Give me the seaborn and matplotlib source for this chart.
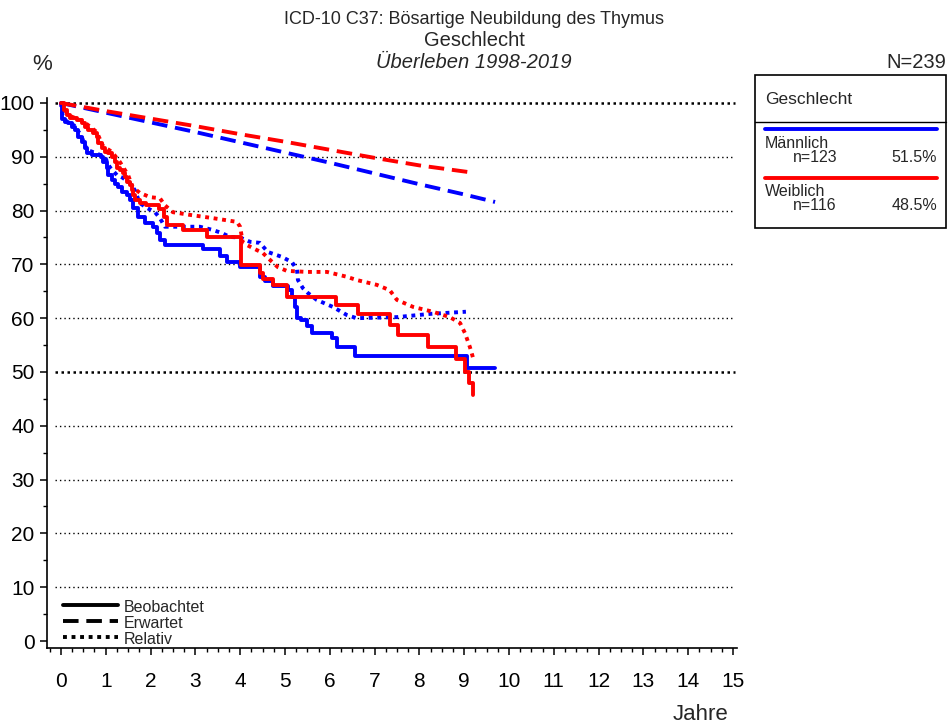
import numpy as np
import pandas as pd
import matplotlib
matplotlib.use("Agg")
import matplotlib.pyplot as plt
import seaborn as sns
from matplotlib.lines import Line2D
from matplotlib.patches import Rectangle
from matplotlib.ticker import MultipleLocator

sns.set_theme(style="white")
plt.rcParams["font.family"] = ["Liberation Sans", "DejaVu Sans"]

# ---------------- data ----------------
groups = ["Männlich", "Weiblich"]
group_n = ["n=123", "n=116"]
group_pct = ["51.5%", "48.5%"]
group_colors = ["#0000ff", "#ff0000"]

# observed (Beobachtet), step curves
m_obs_t = [0, 0.03, 0.10, 0.15, 0.25, 0.32, 0.38, 0.47, 0.53, 0.58, 0.70, 0.90, 0.95, 1.02, 1.05,
           1.13, 1.20, 1.27, 1.36, 1.47, 1.54, 1.60, 1.72, 1.87, 2.05, 2.14, 2.21, 2.32, 3.17,
           3.55, 3.70, 4.00, 4.44, 4.55, 4.73, 5.07, 5.15, 5.22, 5.27, 5.35, 5.49, 5.60, 6.05,
           6.16, 6.56, 9.06, 9.69]
m_obs_v = [100, 97.0, 96.5, 96.3, 95.5, 95.0, 93.7, 92.7, 91.6, 90.7, 90.3, 90.0, 89.0, 88.0, 86.6,
           85.7, 85.0, 84.4, 83.5, 82.9, 82.0, 80.5, 78.8, 77.7, 77.0, 75.8, 74.5, 73.6, 72.9,
           71.5, 70.4, 69.5, 67.7, 66.9, 66.0, 65.2, 64.0, 62.0, 60.0, 59.7, 58.5, 57.2, 56.3,
           54.7, 53.0, 50.7, 50.7]
w_obs_t = [0, 0.07, 0.13, 0.20, 0.36, 0.47, 0.53, 0.60, 0.71, 0.80, 0.83, 0.92, 0.98, 1.05, 1.14,
           1.20, 1.25, 1.32, 1.38, 1.43, 1.47, 1.54, 1.58, 1.61, 1.65, 1.76, 1.90, 2.20, 2.30,
           2.36, 2.72, 3.26, 4.02, 4.44, 4.50, 4.73, 5.04, 6.14, 6.63, 7.34, 7.52, 8.19, 8.82,
           9.02, 9.11, 9.20]
w_obs_v = [100, 98.7, 97.8, 97.2, 96.8, 96.3, 95.5, 95.0, 94.4, 93.7, 92.5, 91.6, 90.9, 90.7, 90.0,
           89.0, 88.0, 87.5, 87.0, 86.2, 85.3, 84.8, 83.8, 82.9, 82.0, 81.4, 81.0, 80.3, 78.8,
           77.3, 76.4, 75.1, 69.8, 68.4, 67.3, 66.2, 64.0, 62.5, 60.8, 58.7, 56.9, 54.7, 52.4,
           50.0, 48.0, 45.7]

# expected (Erwartet)
m_exp_t = [0, 1, 2, 3, 4, 5, 6, 7, 8, 9, 9.69]
m_exp_v = [100, 98.2, 96.4, 94.6, 92.7, 90.8, 88.9, 86.9, 84.9, 83.0, 81.6]
w_exp_t = [0, 1, 2, 3, 4, 5, 6, 7, 8, 9.15]
w_exp_v = [100, 98.5, 97.1, 95.7, 94.2, 92.8, 91.3, 89.8, 88.4, 87.1]

# relative (Relativ)
m_rel_t = [0, 0.05, 0.30, 0.45, 0.58, 0.71, 0.98, 1.09, 1.25, 1.38, 1.54, 1.65, 1.76, 1.92, 2.10,
           2.21, 2.32, 2.72, 3.10, 3.39, 3.60, 3.77, 4.00, 4.22, 4.44, 4.62, 4.93, 5.16, 5.27,
           5.29, 5.40, 5.51, 5.71, 6.07, 6.38, 6.60, 7.50, 8.24, 9.04]
m_rel_v = [100, 97.0, 95.8, 94.0, 91.3, 90.9, 90.0, 88.1, 86.6, 86.1, 85.1, 83.8, 81.4, 80.5, 79.7,
           78.6, 77.0, 77.0, 77.0, 76.4, 75.8, 75.1, 75.0, 74.2, 74.0, 72.3, 71.4, 70.4, 69.0,
           67.1, 65.6, 64.7, 63.4, 62.1, 60.6, 60.0, 60.2, 60.8, 61.2]
w_rel_t = [0, 0.07, 0.20, 0.50, 0.80, 0.94, 1.14, 1.32, 1.50, 1.60, 1.76, 1.99, 2.21, 2.32, 2.50,
           2.88, 3.39, 3.93, 4.00, 4.06, 4.29, 4.51, 4.62, 4.84, 5.04, 5.49, 5.94, 6.38, 6.60,
           7.05, 7.34, 7.50, 7.86, 8.30, 8.68, 8.91, 9.02, 9.13, 9.20]
w_rel_v = [100, 98.8, 97.6, 96.6, 94.6, 92.0, 90.9, 89.0, 86.6, 84.4, 83.3, 82.5, 82.3, 81.0, 79.7,
           79.2, 78.6, 77.9, 77.0, 74.0, 73.0, 72.1, 71.2, 69.5, 68.8, 68.6, 68.6, 67.7, 67.1,
           66.2, 65.2, 63.4, 62.1, 61.2, 60.2, 59.1, 57.2, 54.6, 52.6]

kinds = ["Beobachtet", "Erwartet", "Relativ"]
x_ticks = list(range(0, 16))
y_ticks = list(range(0, 101, 10))

# ---------------- build tables ----------------
def frame(t, v, g, k):
    return pd.DataFrame({"Jahre": t, "Prozent": v, "Gruppe": g, "Art": k})

obs = pd.concat([frame(m_obs_t, m_obs_v, groups[0], kinds[0]),
                 frame(w_obs_t, w_obs_v, groups[1], kinds[0])], ignore_index=True)
exp_ = pd.concat([frame(m_exp_t, m_exp_v, groups[0], kinds[1]),
                  frame(w_exp_t, w_exp_v, groups[1], kinds[1])], ignore_index=True)
rel = pd.concat([frame(m_rel_t, m_rel_v, groups[0], kinds[2]),
                 frame(w_rel_t, w_rel_v, groups[1], kinds[2])], ignore_index=True)
palette = dict(zip(groups, group_colors))

# ---------------- figure ----------------
W, H = 948, 728
fig = plt.figure(figsize=(W / 100, H / 100), dpi=100)
ax = fig.add_axes([47 / W, (H - 648) / H, (737 - 47) / W, (648 - 97.6) / H])
ax.set_xlim(-0.31, 15.09)
ax.set_ylim(-1.3, 101)

# grid lines (dotted)
for y in y_ticks[1:]:
    lw = 1.8 if y in (50, 100) else 1.0
    ax.hlines(y, -0.13, 15.05, colors="black", linewidth=lw,
              linestyles=(0, (1, 2.2) if lw < 1.5 else (1, 1.4)), zorder=1)

lw = 2.8
sns.lineplot(data=exp_, x="Jahre", y="Prozent", hue="Gruppe", palette=palette,
             estimator=None, sort=False, units="Gruppe", legend=False, ax=ax,
             linewidth=lw, dashes=False, zorder=3)
for l in ax.lines:
    l.set_dashes((4, 2))
    l.set_dash_capstyle("butt")
n0 = len(ax.lines)
sns.lineplot(data=rel, x="Jahre", y="Prozent", hue="Gruppe", palette=palette,
             estimator=None, sort=False, units="Gruppe", legend=False, ax=ax,
             linewidth=lw, zorder=3)
for l in ax.lines[n0:]:
    l.set_dashes((1, 1.2))
    l.set_dash_capstyle("butt")
sns.lineplot(data=obs, x="Jahre", y="Prozent", hue="Gruppe", palette=palette,
             estimator=None, sort=False, units="Gruppe", legend=False, ax=ax,
             linewidth=lw, drawstyle="steps-post", zorder=4)

# axes styling
for s in ["top", "right"]:
    ax.spines[s].set_visible(False)
for s in ["left", "bottom"]:
    ax.spines[s].set_color("black")
    ax.spines[s].set_linewidth(1.2)
ax.set_xticks(x_ticks)
ax.set_yticks(y_ticks)
ax.xaxis.set_minor_locator(MultipleLocator(0.25))
ax.yaxis.set_minor_locator(MultipleLocator(5))
ax.tick_params(axis="both", which="major", direction="out", length=5, width=1.1,
               color="black", labelsize=15, labelcolor="black", pad=4,
               bottom=True, left=True)
ax.tick_params(axis="both", which="minor", direction="out", length=3, width=1.0,
               color="black", bottom=True, left=True)
ax.tick_params(axis="x", which="major", pad=12)
ax.set_xlabel("")
ax.set_ylabel("")
ax.grid(False)

# line-style legend inside plot
for i, (k, ls) in enumerate(zip(kinds, ["-", (0, (4, 2)), (0, (1, 1.2))])):
    y = 605 + 16 * i
    fig.add_artist(Line2D([63 / W, 118 / W], [1 - y / H, 1 - y / H], color="black",
                          linewidth=2.8, linestyle=ls, dash_capstyle="butt"))
    fig.text(124 / W, 1 - (y + 2) / H, k, fontsize=11.5, ha="left", va="center")

# titles
fig.text(0.5, 1 - 19 / H, "ICD-10 C37: Bösartige Neubildung des Thymus", fontsize=13,
         ha="center", va="center")
fig.text(0.5, 1 - 41 / H, "Geschlecht", fontsize=14.5, ha="center", va="center")
fig.text(0.5, 1 - 62 / H, "Überleben 1998-2019", fontsize=14.5, ha="center", va="center",
         style="italic")
fig.text(42 / W, 1 - 64 / H, "%", fontsize=16, ha="center", va="center")
fig.text(946 / W, 1 - 63 / H, "N=239", fontsize=14.5, ha="right", va="center")
fig.text(701 / W, 1 - 714 / H, "Jahre", fontsize=16, ha="center", va="center")

# group legend box
fig.add_artist(Rectangle((755 / W, 1 - 228 / H), (946 - 755) / W, (228 - 75) / H,
                         transform=fig.transFigure, fill=False, edgecolor="black",
                         linewidth=1.2))
fig.add_artist(Line2D([755 / W, 946 / W], [1 - 122 / H, 1 - 122 / H], color="black",
                      linewidth=1.0))
fig.text(765 / W, 1 - 99 / H, "Geschlecht", fontsize=12.5, ha="left", va="center")
for i, (g, n, p, c) in enumerate(zip(groups, group_n, group_pct, group_colors)):
    base = 129 + 49 * i
    fig.add_artist(Line2D([765 / W, 937 / W], [1 - base / H, 1 - base / H], color=c,
                          linewidth=2.8))
    fig.text(765 / W, 1 - (base + 14) / H, g, fontsize=11.5, ha="left", va="center")
    fig.text(793 / W, 1 - (base + 28) / H, n, fontsize=11.5, ha="left", va="center")
    fig.text(937 / W, 1 - (base + 28) / H, p, fontsize=11.5, ha="right", va="center")

fig.savefig("out.png", dpi=100)
